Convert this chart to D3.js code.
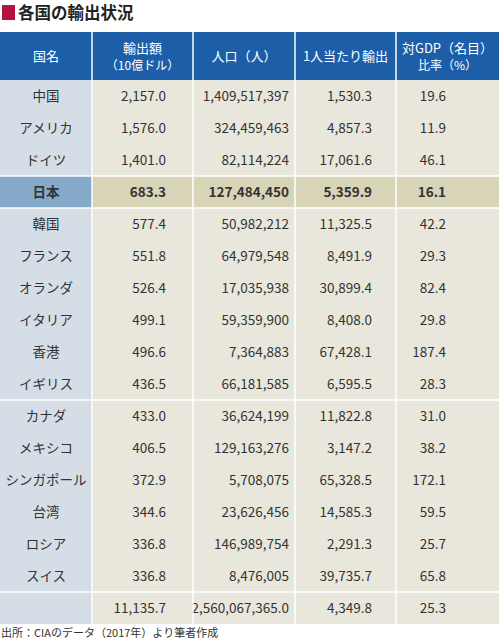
<!DOCTYPE html>
<html><head><meta charset="utf-8">
<script src="https://cdn.jsdelivr.net/npm/d3@7"></script>
<style>body{margin:0;background:#fff}</style>
</head><body><svg id="chart" width="499" height="640"></svg>
<script>
var headers = [['国名'], ['輸出額', '（10億ドル）'], ['人口（人）'], ['1人当たり輸出'], ['対GDP（名目）', '比率（%）']]
var countries = ['中国', 'アメリカ', 'ドイツ', '日本', '韓国', 'フランス', 'オランダ', 'イタリア', '香港', 'イギリス', 'カナダ', 'メキシコ', 'シンガポール', '台湾', 'ロシア', 'スイス', '']
var exports = ['2,157.0', '1,576.0', '1,401.0', '683.3', '577.4', '551.8', '526.4', '499.1', '496.6', '436.5', '433.0', '406.5', '372.9', '344.6', '336.8', '336.8', '11,135.7']
var population = ['1,409,517,397', '324,459,463', '82,114,224', '127,484,450', '50,982,212', '64,979,548', '17,035,938', '59,359,900', '7,364,883', '66,181,585', '36,624,199', '129,163,276', '5,708,075', '23,626,456', '146,989,754', '8,476,005', '2,560,067,365.0']
var perCapita = ['1,530.3', '4,857.3', '17,061.6', '5,359.9', '11,325.5', '8,491.9', '30,899.4', '8,408.0', '67,428.1', '6,595.5', '11,822.8', '3,147.2', '65,328.5', '14,585.3', '2,291.3', '39,735.7', '4,349.8']
var gdpRatio = ['19.6', '11.9', '46.1', '16.1', '42.2', '29.3', '82.4', '29.8', '187.4', '28.3', '31.0', '38.2', '172.1', '59.5', '25.7', '65.8', '25.3']
var highlight = '日本'
var groupBreaks = [3, 4, 10, 16]

var svg = d3.select('#chart')
var font = '"Noto Sans CJK JP", "Noto Sans", sans-serif'

svg.append('rect').attr('x', 2).attr('y', 5).attr('width', 13).attr('height', 15).attr('fill', '#b5123f')
svg.append('text').attr('x', 18).attr('y', 19).attr('font-family', font).attr('font-weight', 'bold')
  .attr('font-size', 16.5).attr('fill', '#222').text('各国の輸出状況')

var colEdges = [0, 92, 193, 295, 396, 499]
var x = d3.scaleOrdinal().domain(d3.range(5)).range(colEdges.slice(0, 5))
var y = d3.scaleLinear().domain([0, 17]).range([80, 624])
var headTop = 32
var columns = [countries, exports, population, perCapita, gdpRatio]
var anchorX = [46, 166, 289, 372, 446]

// header
svg.selectAll('rect.head').data(d3.range(5)).enter().append('rect')
  .attr('x', function (d) { return x(d) }).attr('y', headTop)
  .attr('width', function (d) { return colEdges[d + 1] - colEdges[d] }).attr('height', 80 - headTop)
  .attr('fill', '#1c5ea8')
headers.forEach(function (lines, i) {
  var cx = (colEdges[i] + colEdges[i + 1]) / 2
  lines.forEach(function (l, j) {
    svg.append('text').attr('x', cx).attr('y', 56 + (j - (lines.length - 1) / 2) * 17 + 5)
      .attr('text-anchor', 'middle').attr('font-family', font).attr('font-size', lines.length > 1 && j === 1 ? 12 : 13)
      .attr('fill', '#fff').text(l)
  })
})

// body cells
var rows = d3.range(countries.length)
columns.forEach(function (col, ci) {
  svg.selectAll('rect.c' + ci).data(rows).enter().append('rect')
    .attr('x', x(ci)).attr('y', function (r) { return y(r) })
    .attr('width', colEdges[ci + 1] - colEdges[ci]).attr('height', function (r) { return y(r + 1) - y(r) })
    .attr('fill', function (r) {
      var hl = countries[r] === highlight
      if (ci === 0) return hl ? '#85a9c8' : '#d5dee7'
      return hl ? '#d8d4b8' : '#e9e7dc'
    })
  svg.selectAll('text.c' + ci).data(col).enter().append('text')
    .attr('x', anchorX[ci]).attr('y', function (d, r) { return (y(r) + y(r + 1)) / 2 + 5 })
    .attr('text-anchor', ci === 0 ? 'middle' : 'end')
    .attr('font-family', font).attr('font-size', 13.5)
    .attr('font-weight', function (d, r) { return countries[r] === highlight ? 'bold' : 'normal' })
    .attr('fill', '#333').text(function (d) { return d })
})

// white grid lines
colEdges.slice(1, 5).forEach(function (cx) {
  svg.append('line').attr('x1', cx).attr('x2', cx).attr('y1', headTop).attr('y2', y(17))
    .attr('stroke', '#fff').attr('stroke-width', 1.5)
})
groupBreaks.forEach(function (r) {
  svg.append('line').attr('x1', 0).attr('x2', 499).attr('y1', y(r)).attr('y2', y(r))
    .attr('stroke', '#fff').attr('stroke-width', 1.5)
})

svg.append('text').attr('x', 1).attr('y', 637).attr('font-family', font).attr('font-size', 11)
  .attr('fill', '#333').text('出所：CIAのデータ（2017年）より筆者作成')
</script></body></html>
